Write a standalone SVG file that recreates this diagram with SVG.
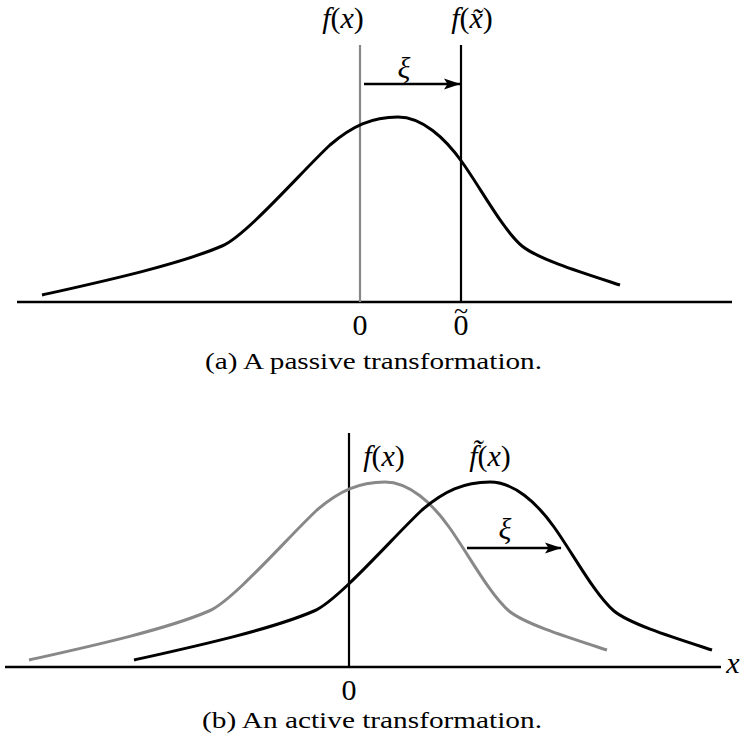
<svg xmlns="http://www.w3.org/2000/svg" xmlns:xlink="http://www.w3.org/1999/xlink" width="741" height="738" viewBox="0 0 741 738">
<style>
.axis{stroke:#000;stroke-width:2.5;fill:none}
.vblack{stroke:#000;stroke-width:2.2;fill:none}
.vgray{stroke:#888;stroke-width:2.2;fill:none}
.cblack{stroke:#000;stroke-width:3;fill:none;stroke-linecap:butt}
.cgray{stroke:#888;stroke-width:3;fill:none;stroke-linecap:butt}
.arrow{stroke:#000;stroke-width:2.4;fill:none;marker-end:url(#ah)}
.m{font-family:"Liberation Serif","Times New Roman",serif;font-size:30px;fill:#000}
.i{font-style:italic}
.cap{font-family:"Liberation Serif","Times New Roman",serif;font-size:23px;fill:#000}
</style>
<defs>
<marker id="ah" markerUnits="userSpaceOnUse" markerWidth="17" markerHeight="12" refX="16" refY="6" orient="auto" viewBox="0 0 17 12">
<path d="M0,0.5 L16.5,6 L0,11.5 L3.5,6 z" fill="#000"/>
</marker>
<path id="curve" d="M42,295 C100,282 178,265 222,246 C246,236 303,170 330,145 C352,126 372,117 398,117 C422,117 445,138 462,162 C480,187 503,230 522,246 C538,259 580,272 620,285"/>
</defs>

<g id="panel-a">
  <g id="axis-a"><line class="axis" x1="17" y1="302" x2="732" y2="302"/></g>
  <g id="line-fx-a"><line class="vgray" x1="360" y1="45" x2="360" y2="302"/></g>
  <g id="line-fxt-a"><line class="vblack" x1="461" y1="45" x2="461" y2="302"/></g>
  <g id="curve-a"><use xlink:href="#curve" href="#curve" class="cblack"/></g>
  <g id="connectors-a"><line class="arrow" x1="364" y1="84" x2="460" y2="84"/></g>
  <g id="labels-a">
    <text class="m" x="343" y="28" text-anchor="middle"><tspan class="i">f</tspan>(<tspan class="i">x</tspan>)</text>
    <text class="m" x="472" y="28" text-anchor="middle"><tspan class="i">f</tspan>(<tspan class="i">x&#x303;</tspan>)</text>
    <text class="m i" x="404" y="78" text-anchor="middle">ξ</text>
    <text class="m" x="360" y="335" text-anchor="middle">0</text>
    <text class="m" x="461" y="335" text-anchor="middle">0<tspan x="461" y="319" font-size="26">~</tspan></text>
    <text class="cap" x="205" y="369" textLength="337" lengthAdjust="spacingAndGlyphs">(a) A passive transformation.</text>
  </g>
</g>

<g id="panel-b">
  <g id="axis-b"><line class="axis" x1="5" y1="667" x2="721" y2="667"/></g>
  <g id="line-b"><line class="vblack" x1="349" y1="433" x2="349" y2="667"/></g>
  <g id="curve-fx-b"><use xlink:href="#curve" href="#curve" class="cgray" transform="translate(-13,365)"/></g>
  <g id="curve-fxt-b"><use xlink:href="#curve" href="#curve" class="cblack" transform="translate(92,365)"/></g>
  <g id="connectors-b"><line class="arrow" x1="467" y1="548" x2="561" y2="548"/></g>
  <g id="labels-b">
    <text class="m" x="384" y="466" text-anchor="middle"><tspan class="i">f</tspan>(<tspan class="i">x</tspan>)</text>
    <text class="m" x="490" y="466" text-anchor="middle"><tspan class="i">f&#x303;</tspan>(<tspan class="i">x</tspan>)</text>
    <text class="m i" x="505" y="539" text-anchor="middle">ξ</text>
    <text class="m" x="349" y="700" text-anchor="middle">0</text>
    <text class="m i" x="733" y="673" text-anchor="middle">x</text>
    <text class="cap" x="202" y="728" textLength="340" lengthAdjust="spacingAndGlyphs">(b) An active transformation.</text>
  </g>
</g>
</svg>
